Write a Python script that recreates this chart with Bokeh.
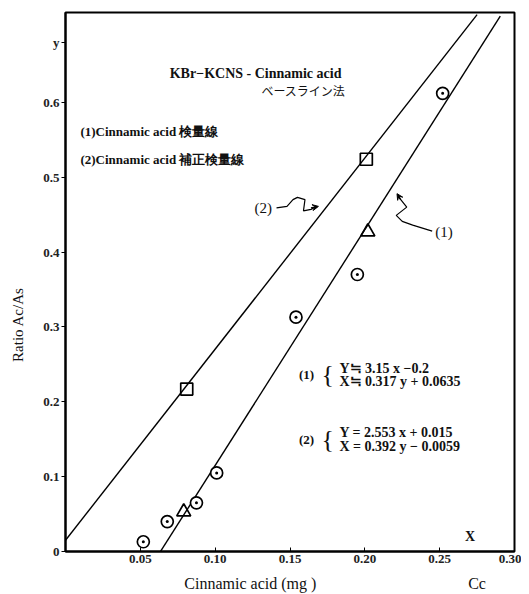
from bokeh.plotting import figure
from bokeh.models import Label, FixedTicker, Arrow, VeeHead, LinearAxis
from bokeh.embed import file_html
from bokeh.resources import INLINE

# ---- data ----
circle_x = [0.052, 0.068, 0.0875, 0.101, 0.154, 0.195, 0.252]
circle_y = [0.013, 0.040, 0.065, 0.105, 0.313, 0.370, 0.612]
triangle_x = [0.079, 0.202]
triangle_y = [0.053, 0.427]
square_x = [0.081, 0.201]
square_y = [0.217, 0.524]

# regression lines printed on the chart
line1_slope, line1_icpt = 3.15, -0.2
line2_slope, line2_icpt = 2.553, 0.015
line1_x = [0.0635, 0.2905]
line2_x = [0.0, 0.275]

x_ticks = [0.05, 0.10, 0.15, 0.20, 0.25, 0.30]
x_tick_labels = ["0.05", "0.10", "0.15", "0.20", "0.25", "0.30"]
y_ticks = [0.0, 0.1, 0.2, 0.3, 0.4, 0.5, 0.6, 0.68]
y_tick_labels = ["0", "0.1", "0.2", "0.3", "0.4", "0.5", "0.6", "y"]

x_title = "Cinnamic acid (mg )"
x_title_pos = 0.1235
x_unit = "Cc"
x_unit_pos = 0.275
y_title = "Ratio Ac/As"
y_title_pos = 0.303

SERIF = "Liberation Serif"

p = figure(width=521, height=594, x_range=(0, 0.30), y_range=(0, 0.72),
           output_backend="svg", toolbar_location=None,
           min_border_left=65, min_border_right=7, min_border_top=12, min_border_bottom=42)
p.xgrid.visible = False
p.ygrid.visible = False
p.outline_line_color = "black"
p.outline_line_width = 2
p.background_fill_color = "white"
p.border_fill_color = "white"

p.xaxis.ticker = FixedTicker(ticks=x_ticks)
p.xaxis.major_label_overrides = {t: l for t, l in zip(x_ticks, x_tick_labels)}
p.yaxis.ticker = FixedTicker(ticks=y_ticks)
p.yaxis.major_label_overrides = {t: l for t, l in zip(y_ticks, y_tick_labels)}
for ax in (p.xaxis, p.yaxis):
    ax.axis_line_color = "black"
    ax.axis_line_width = 2
    ax.major_tick_line_color = "black"
    ax.minor_tick_line_color = None
    ax.major_label_text_font = SERIF
    ax.major_label_text_font_size = "13px"
    ax.major_label_text_font_style = "bold"
    ax.major_label_text_color = "#222222"
p.xaxis.major_tick_in = 4
p.xaxis.major_tick_out = 0
p.xaxis.major_label_standoff = 3
p.yaxis.major_tick_in = 0
p.yaxis.major_tick_out = 4
p.yaxis.major_label_standoff = 2

# secondary axes used only to place the axis titles where the reference has them
xt = LinearAxis(ticker=FixedTicker(ticks=[x_title_pos, x_unit_pos]),
                major_label_overrides={x_title_pos: x_title, x_unit_pos: x_unit},
                axis_line_color=None, major_tick_line_color=None, minor_tick_line_color=None,
                major_label_standoff=3, major_label_text_font=SERIF,
                major_label_text_font_size="16px", major_label_text_color="#111111")
p.add_layout(xt, "below")
yt = LinearAxis(ticker=FixedTicker(ticks=[y_title_pos]),
                major_label_overrides={y_title_pos: y_title},
                major_label_orientation="vertical",
                axis_line_color=None, major_tick_line_color=None, minor_tick_line_color=None,
                major_label_standoff=8, major_label_text_font=SERIF,
                major_label_text_font_size="15px", major_label_text_color="#111111")
p.add_layout(yt, "left")

# fit lines
p.line(line1_x, [line1_slope * x + line1_icpt for x in line1_x], line_color="black", line_width=1.4)
p.line(line2_x, [line2_slope * x + line2_icpt for x in line2_x], line_color="black", line_width=1.4)

# markers
p.scatter(circle_x, circle_y, marker="circle_dot", size=12, fill_color="white",
          line_color="black", line_width=1.7)
p.scatter(triangle_x, triangle_y, marker="triangle", size=14, fill_alpha=0,
          line_color="black", line_width=1.7)
p.scatter(square_x, square_y, marker="square", size=12, fill_alpha=0,
          line_color="black", line_width=1.7)

# squiggly pointers
sq2_x = [0.141, 0.148, 0.152, 0.155, 0.160, 0.159, 0.164, 0.168]
sq2_y = [0.459, 0.461, 0.470, 0.473, 0.470, 0.455, 0.457, 0.461]
p.line(sq2_x, sq2_y, line_color="black", line_width=1.2)
p.add_layout(Arrow(end=VeeHead(size=6, fill_color="black", line_color="black"),
                   x_start=0.164, y_start=0.459, x_end=0.169, y_end=0.461, line_width=1.2))
sq1_x = [0.245, 0.232, 0.225, 0.221, 0.228, 0.224, 0.222]
sq1_y = [0.428, 0.436, 0.441, 0.449, 0.460, 0.470, 0.474]
p.line(sq1_x, sq1_y, line_color="black", line_width=1.2)
p.add_layout(Arrow(end=VeeHead(size=6, fill_color="black", line_color="black"),
                   x_start=0.224, y_start=0.470, x_end=0.2215, y_end=0.478, line_width=1.2))

def lab(x, y, text, size="12px", align="left", base="middle", style="bold", font=SERIF):
    p.add_layout(Label(x=x, y=y, text=text, text_font=font, text_font_size=size,
                       text_align=align, text_baseline=base, text_font_style=style,
                       text_color="#111111"))

lab(0.127, 0.639, "KBr\u2212KCNS - Cinnamic acid", align="center", size="14px")
lab(0.159, 0.616, "ベースライン法", align="center", size="12px", style="normal",
    font="Noto Sans CJK JP")
lab(0.010, 0.561, "(1)Cinnamic acid 検量線", size="13px")
lab(0.010, 0.523, "(2)Cinnamic acid 補正検量線", size="13px")
lab(0.138, 0.459, "(2)", align="right", size="15px", style="normal")
lab(0.247, 0.427, "(1)", size="15px", style="normal")

lab(0.156, 0.236, "(1)", size="13px")
lab(0.171, 0.236, "{", size="26px", style="normal")
lab(0.183, 0.245, "Y\u2252 3.15 x \u22120.2", size="14px")
lab(0.183, 0.227, "X\u2252 0.317 y + 0.0635", size="14px")
lab(0.156, 0.149, "(2)", size="13px")
lab(0.171, 0.149, "{", size="26px", style="normal")
lab(0.183, 0.159, "Y = 2.553 x + 0.015", size="14px")
lab(0.183, 0.140, "X = 0.392 y \u2212 0.0059", size="14px")

lab(0.267, 0.020, "X", size="14px")

open("out.html", "w").write(file_html(p, INLINE))
